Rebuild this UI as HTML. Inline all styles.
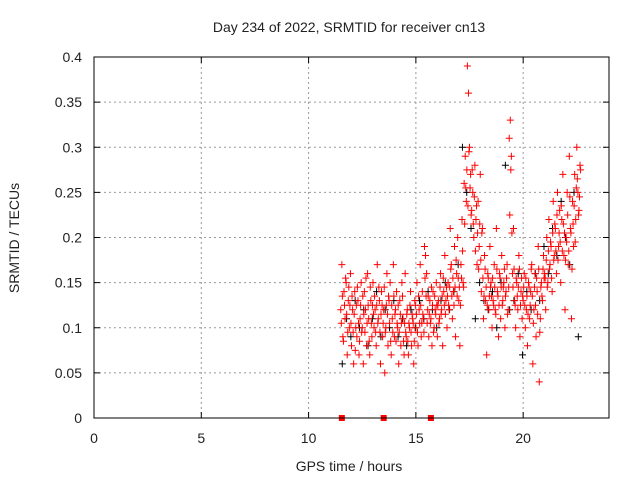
<!DOCTYPE html>
<html><head><meta charset="utf-8"><style>
body{margin:0;background:#fff}
svg text{font-family:"Liberation Sans",sans-serif;font-size:14px;fill:#222}
</style></head><body>
<svg id="c" width="640" height="480">
<text x="349" y="32" text-anchor="middle">Day 234 of 2022, SRMTID for receiver cn13</text>
<text x="349" y="471" text-anchor="middle">GPS time / hours</text>
<text transform="translate(19,238) rotate(-90)" text-anchor="middle">SRMTID / TECUs</text>
<g id="grid"></g><g id="marks"></g>
<rect x="94" y="57" width="515" height="361" fill="none" stroke="#000" stroke-width="1"/>
</svg>
<script>
const xTicks=[0,5,10,15,20];
const yTicks=[0,0.05,0.1,0.15,0.2,0.25,0.3,0.35,0.4];
const yTickLabels=["0","0.05","0.1","0.15","0.2","0.25","0.3","0.35","0.4"];
const tStart=11.5, tStep=0.05, blackStep=0.2;
const redA=[0.12,0.17,0.09,0.14,0.11,0.15,0.07,0.13,0.10,0.16,
0.08,0.12,0.06,0.14,0.10,0.09,0.13,0.07,0.11,0.15,
0.10,0.06,0.14,0.12,0.08,0.16,0.11,0.07,0.13,0.09,
0.15,0.10,0.12,0.08,0.17,0.11,0.13,0.06,0.14,0.09,
0.12,0.05,0.10,0.16,0.08,0.13,0.15,0.07,0.11,0.17,
0.09,0.12,0.14,0.10,0.06,0.13,0.08,0.15,0.11,0.07,
0.16,0.09,0.12,0.07,0.10,0.14,0.08,0.11,0.06,0.13,
0.10,0.15,0.08,0.12,0.17,0.09,0.14,0.11,0.19,0.18,
0.16,0.12,0.09,0.13,0.11,0.08,0.14,0.10,0.12,0.15,
0.09,0.13,0.11,0.16,0.12,0.08,0.14,0.18,0.13,0.10,
0.15,0.12,0.21,0.17,0.11,0.14,0.19,0.09,0.16,0.20,
0.13,0.08,0.17,0.22,0.15,0.26,0.29,0.24,0.39,0.36,
0.30,0.27,0.23,0.25,0.20,0.28,0.22,0.17,0.24,0.19,
0.27,0.14,0.21,0.11,0.18,0.13,0.07,0.16,0.12,0.19,
0.15,0.10,0.13,0.17,0.12,0.21,0.14,0.09,0.16,0.11,
0.18,0.13,0.15,0.10,0.14,0.17,0.12,0.31,0.33,0.29,
0.16,0.21,0.13,0.10,0.15,0.12,0.18,0.09,0.14,0.11,
0.13,0.16,0.10,0.12,0.08,0.15,0.11,0.14,0.17,0.06,
0.12,0.16,0.09,0.14,0.19,0.04,0.11,0.15,0.13,0.18,
0.16,0.12,0.20,0.15,0.22,0.17,0.19,0.14,0.24,0.18,
0.21,0.16,0.25,0.19,0.23,0.15,0.22,0.27,0.18,0.12,
0.20,0.25,0.17,0.29,0.21,0.11,0.24,0.19,0.27,0.22,
0.30,0.25,0.23,0.28];
const redB=[0.105,0.135,0.085,0.125,0.155,0.115,0.095,0.145,0.125,0.105,
0.135,0.095,0.115,0.075,0.125,0.145,0.105,0.085,0.125,0.095,
0.135,0.115,0.095,0.155,0.105,0.125,0.085,0.145,0.105,0.125,
0.115,0.135,0.095,0.125,0.105,0.145,0.095,0.115,0.125,0.105,
0.145,0.095,0.125,0.115,0.135,0.105,0.085,0.125,0.095,0.135,
0.115,0.085,0.105,0.125,0.095,0.115,0.105,0.135,0.085,0.105,
0.095,0.115,0.085,0.105,0.125,0.095,0.115,0.105,0.085,0.125,
0.115,0.095,0.135,0.105,0.125,0.105,0.115,0.095,0.155,0.135,
0.105,0.135,0.115,0.105,0.145,0.125,0.095,0.135,0.115,0.125,
0.125,0.105,0.145,0.115,0.135,0.155,0.125,0.115,0.145,0.135,
0.125,0.145,0.165,0.135,0.155,0.125,0.145,0.175,0.135,0.155,
0.145,0.125,0.155,0.185,0.145,0.215,0.255,0.275,0.235,0.295,
0.255,0.225,0.275,0.215,0.245,0.185,0.235,0.205,0.165,0.215,
0.175,0.205,0.155,0.135,0.165,0.145,0.125,0.155,0.135,0.145,
0.135,0.155,0.125,0.145,0.115,0.165,0.135,0.125,0.155,0.145,
0.125,0.145,0.165,0.135,0.155,0.115,0.145,0.225,0.275,0.205,
0.145,0.165,0.125,0.155,0.135,0.145,0.165,0.125,0.155,0.135,
0.145,0.125,0.155,0.135,0.115,0.145,0.125,0.165,0.135,0.105,
0.145,0.125,0.155,0.115,0.165,0.095,0.145,0.135,0.165,0.155,
0.155,0.175,0.145,0.185,0.165,0.195,0.155,0.205,0.175,0.215,
0.185,0.225,0.175,0.205,0.195,0.235,0.185,0.215,0.205,0.175,
0.195,0.225,0.185,0.245,0.205,0.165,0.215,0.235,0.195,0.255,
0.265,0.225,0.245,0.275];
const black=[0.06,0.11,0.09,0.13,0.10,0.12,0.08,0.11,0.14,0.09,
0.12,0.10,0.13,0.09,0.11,0.08,0.12,0.10,0.13,0.11,
0.14,0.12,0.10,0.13,0.15,0.12,0.14,0.17,0.30,0.25,
0.21,0.11,0.15,0.13,0.12,0.14,0.10,0.15,0.28,0.12,
0.13,0.16,0.07,0.14,0.12,0.16,0.13,0.19,0.16,0.21,
0.18,0.24,0.20,0.17,0.25,0.09];
const gapTimes=[11.55,13.5,15.7];
const X0=94,X1=609,Y0=418,Y1=57;
const xs=v=>X0+(X1-X0)*v/24;
const ys=v=>Y0-(Y0-Y1)*v/0.4;
const NS="http://www.w3.org/2000/svg";
const svg=document.getElementById('c'),grid=document.getElementById('grid'),marks=document.getElementById('marks');
function mk(tag,at,parent){const e=document.createElementNS(NS,tag);for(const k in at)e.setAttribute(k,at[k]);parent.appendChild(e);return e;}
xTicks.forEach(v=>{const x=xs(v);
 if(v>0){const l=mk('line',{x1:x,x2:x,y1:Y1,y2:Y0,stroke:'#999','stroke-dasharray':'2,3'},grid);
 
 }
 const t=mk('text',{x:x,y:Y0+25,'text-anchor':'middle'},svg);t.textContent=v;
 
 
 mk('line',{x1:x,x2:x,y1:Y0,y2:Y0-6,stroke:'#000'},grid);mk('line',{x1:x,x2:x,y1:Y1,y2:Y1+6,stroke:'#000'},grid);});
yTicks.forEach((v,i)=>{const y=ys(v);
 if(v>0&&v<0.4){const l=mk('line',{x1:X0,x2:X1,y1:y,y2:y,stroke:'#999','stroke-dasharray':'2,3'},grid);
 
 }
 const t=mk('text',{x:X0-12,y:y+5,'text-anchor':'end'},svg);t.textContent=yTickLabels[i];
 
 
 mk('line',{x1:X0,x2:X0+6,y1:y,y2:y,stroke:'#000'},grid);mk('line',{x1:X1,x2:X1-6,y1:y,y2:y,stroke:'#000'},grid);});
function cross(t,v,col){const x=xs(t),y=ys(v);
 const p=mk('path',{d:`M${x-3.5},${y}h7M${x},${y-3.5}v7`,stroke:col,'stroke-width':1,fill:'none'},marks);
 
 }
black.forEach((v,i)=>cross(tStart+i*blackStep+0.07,v,'#000'));
redA.forEach((v,i)=>cross(tStart+i*tStep,v,'#f00'));
redB.forEach((v,i)=>cross(tStart+i*tStep+0.025,v,'#f00'));
gapTimes.forEach(t=>{const r=mk('rect',{x:xs(t)-3,y:Y0-3,width:6,height:6,fill:'#f00'},marks);
 
 });
</script>
</body></html>
